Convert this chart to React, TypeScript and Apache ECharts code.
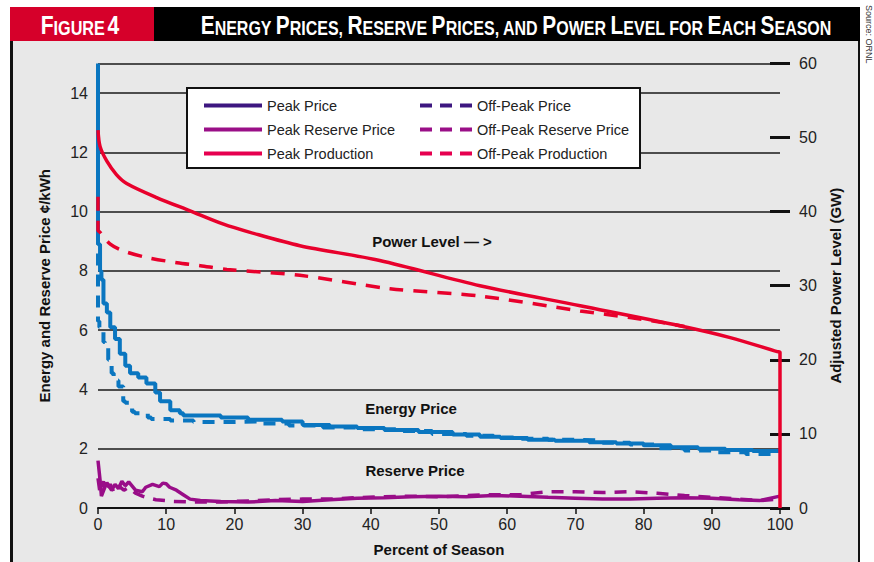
import React, { useEffect, useRef } from "react";
import * as echarts from "echarts";

const peakPrice: [number, number][] = [
  [0, 15], [0.3, 8.9], [0.5, 8.0], [0.8, 7.7], [1.3, 6.9], [1.8, 6.6], [2.5, 6.1], [3.2, 5.7],
  [4.0, 5.2], [4.7, 4.8], [5.9, 4.55], [7.1, 4.4], [8.4, 4.2], [9.1, 3.9], [10.6, 3.6], [12.0, 3.3],
  [12.5, 3.2], [18, 3.12], [22, 3.05], [27, 2.98], [30, 2.92], [34, 2.8], [38, 2.75], [42, 2.7],
  [47, 2.63], [52, 2.56], [56, 2.48], [59, 2.4], [63, 2.36], [67, 2.3], [72, 2.27], [76, 2.22],
  [80, 2.18], [84, 2.12], [88, 2.05], [92, 2.0], [96, 1.96], [100, 1.92],
];
const offPeakPrice: [number, number][] = [
  [0, 10], [0.2, 6.3], [0.8, 6.1], [1.0, 5.6], [1.5, 5.4], [2.0, 5.0], [2.3, 4.55], [3.0, 4.3],
  [3.7, 4.1], [4.0, 3.6], [5.0, 3.55], [5.4, 3.25], [7.3, 3.2], [7.8, 3.05], [10.6, 3.0], [14, 2.95],
  [19, 2.9], [24, 2.92], [28, 2.85], [33, 2.78], [38, 2.72], [44, 2.66], [49, 2.6], [54, 2.5],
  [58, 2.44], [62, 2.38], [66, 2.34], [70, 2.3], [74, 2.28], [78, 2.2], [82, 2.14], [86, 2.02],
  [90, 1.94], [95, 1.88], [100, 1.82],
];
const peakReserve: [number, number][] = [
  [0, 1.6], [0.3, 0.95], [0.5, 0.4], [1, 0.7], [1.3, 0.85], [2, 0.6], [2.5, 0.8], [3, 0.65],
  [3.5, 0.9], [4, 0.75], [4.5, 0.88], [5.5, 0.6], [6.5, 0.55], [7, 0.7], [8, 0.8], [9, 0.72],
  [9.5, 0.84], [10, 0.82], [10.5, 0.7], [11.5, 0.6], [12.5, 0.45], [13.5, 0.3], [15, 0.25],
  [18, 0.22], [22, 0.2], [26, 0.25], [30, 0.22], [34, 0.28], [38, 0.33], [42, 0.35], [46, 0.38],
  [50, 0.4], [54, 0.38], [58, 0.42], [62, 0.4], [66, 0.36], [70, 0.33], [74, 0.3], [78, 0.3],
  [82, 0.33], [86, 0.35], [90, 0.33], [94, 0.28], [97, 0.25], [100, 0.4],
];
const offPeakReserve: [number, number][] = [
  [0, 1.0], [0.3, 0.5], [0.8, 0.9], [1.2, 0.55], [1.8, 0.8], [2.4, 0.5], [3, 0.75], [3.8, 0.6],
  [4.5, 0.7], [5.5, 0.5], [6.5, 0.4], [7.5, 0.33], [8.5, 0.28], [10, 0.25], [11, 0.22], [14, 0.2],
  [18, 0.2], [22, 0.24], [26, 0.28], [30, 0.3], [34, 0.3], [38, 0.35], [42, 0.38], [46, 0.4],
  [50, 0.38], [54, 0.42], [58, 0.45], [62, 0.45], [66, 0.55], [70, 0.55], [74, 0.52], [78, 0.55],
  [82, 0.5], [86, 0.42], [90, 0.36], [94, 0.3], [97, 0.25], [100, 0.3],
];
const peakProduction: [number, number][] = [
  [0, 51], [0.3, 48.8], [1.3, 46.8], [2.7, 45], [4.2, 43.8], [8.6, 41.9], [13.5, 40.1], [18.4, 38.3],
  [22.3, 37.2], [29.6, 35.4], [41.3, 33.4], [56, 30.0], [70.7, 27.3], [85.3, 24.6], [92.7, 23],
  [99.6, 21.1], [100, 21], [100, 0],
];
const offPeakProduction: [number, number][] = [
  [0, 42], [0, 37.5], [0.3, 37.2], [1.8, 35.6], [3.7, 34.7], [7.2, 33.8], [11.6, 33.1], [15, 32.7],
  [18.9, 32.2], [29.6, 31.4], [42.8, 29.6], [56, 28.6], [70.7, 26.6], [78, 25.7], [83, 25.0], [86, 24.5],
];

const peakNames = ["Peak Price", "Peak Reserve Price", "Peak Production"];
const offPeakNames = ["Off-Peak Price", "Off-Peak Reserve Price", "Off-Peak Production"];
const legendColors = ["#3d1780", "#9a0f87", "#e6004f"];

const FONT = "'Liberation Sans Narrow', 'Arial Narrow', 'Liberation Sans', Arial, sans-serif";
const BLUE = "#0a76c0";
const PURPLE = "#990d88";
const RED = "#e8002c";

export default function App() {
  const ref = useRef<HTMLDivElement>(null);
  useEffect(() => {
    document.body.style.margin = "0";
    const chart = echarts.init(ref.current!, null, { renderer: "svg" });
    const dash = [12, 9];
    const titleRich = {
      b: { fontSize: 26, fontWeight: "bold", fontFamily: FONT, fill: "#fff", verticalAlign: "bottom" },
      s: { fontSize: 20, fontWeight: "bold", fontFamily: FONT, fill: "#fff", verticalAlign: "bottom" },
    };
    const nameStyle = { fontSize: 15, fontWeight: "bold", color: "#111", fontFamily: FONT };
    const labelStyle = { fontSize: 16, color: "#222", fontFamily: FONT };
    const annot = (text: string, x: number, y: number) => ({
      type: "text", z: 6, x, y,
      style: { text, fontSize: 15, fontWeight: "bold", fill: "#111", fontFamily: FONT, align: "center", verticalAlign: "middle" },
    });
    const option: any = {
      animation: false,
      backgroundColor: "#ffffff",
      textStyle: { fontFamily: FONT },
      grid: { left: 98, right: 94, top: 63.4, bottom: 54 },
      xAxis: {
        type: "value", min: 0, max: 100, interval: 10,
        name: "Percent of Season", nameLocation: "middle", nameGap: 34,
        nameTextStyle: nameStyle,
        axisLine: { lineStyle: { color: "#111", width: 2 } },
        axisTick: { length: 6, lineStyle: { color: "#111", width: 1.5 } },
        axisLabel: { ...labelStyle, margin: 8 },
        splitLine: { show: false },
      },
      yAxis: [
        {
          type: "value", min: 0, max: 15, interval: 2, position: "left",
          name: "Energy and Reserve Price ¢/kWh", nameLocation: "middle", nameGap: 46,
          nameTextStyle: nameStyle,
          axisLine: { show: false }, axisTick: { show: false },
          axisLabel: { ...labelStyle, margin: 10, showMaxLabel: false },
          splitLine: { show: true, lineStyle: { color: "#1a1a1a", width: 1.5 } },
        },
        {
          type: "value", min: 0, max: 60, interval: 10, position: "right",
          name: "Adjusted Power Level (GW)", nameLocation: "middle", nameGap: 48,
          nameTextStyle: nameStyle,
          axisLine: { show: false },
          axisTick: { show: true, length: 10, lineStyle: { color: "#111", width: 3 } },
          axisLabel: { ...labelStyle, margin: 19 },
          splitLine: { show: false },
        },
        {
          type: "value", min: 0, max: 60, interval: 10, position: "right", offset: 0,
          axisLine: { show: false },
          axisTick: { show: true, inside: true, length: 10, lineStyle: { color: "#111", width: 3 } },
          axisLabel: { show: false },
          splitLine: { show: false },
        },
      ],
      legend: [
        {
          left: 202, top: 98, orient: "vertical", itemWidth: 58, itemHeight: 14, itemGap: 9,
          padding: 0, selectedMode: false, z: 6,
          textStyle: { fontSize: 14.5, color: "#222", fontFamily: FONT },
          data: peakNames.map((n, i) => ({
            name: n, itemStyle: { color: legendColors[i], opacity: 0, borderWidth: 0 },
            lineStyle: { color: legendColors[i], width: 4, type: "solid", opacity: 1 },
          })),
        },
        {
          left: 418, top: 98, orient: "vertical", itemWidth: 52, itemHeight: 14, itemGap: 9,
          padding: 0, selectedMode: false, z: 6,
          textStyle: { fontSize: 14.5, color: "#222", fontFamily: FONT },
          data: offPeakNames.map((n, i) => ({
            name: n, itemStyle: { color: legendColors[i], opacity: 0, borderWidth: 0 },
            lineStyle: { color: legendColors[i], width: 4, type: [12, 8], opacity: 1 },
          })),
        },
      ],
      series: [
        { name: "Peak Price", type: "line", step: "start", data: peakPrice, showSymbol: false, symbol: "none",
          lineStyle: { color: BLUE, width: 4 }, itemStyle: { color: BLUE }, z: 3 },
        { name: "Off-Peak Price", type: "line", step: "start", data: offPeakPrice, showSymbol: false, symbol: "none",
          lineStyle: { color: BLUE, width: 4, type: dash }, itemStyle: { color: BLUE }, z: 3 },
        { name: "Peak Reserve Price", type: "line", data: peakReserve, showSymbol: false, symbol: "none",
          lineStyle: { color: PURPLE, width: 3.5 }, itemStyle: { color: PURPLE }, z: 3 },
        { name: "Off-Peak Reserve Price", type: "line", data: offPeakReserve, showSymbol: false, symbol: "none",
          lineStyle: { color: PURPLE, width: 3.5, type: dash }, itemStyle: { color: PURPLE }, z: 3 },
        { name: "Peak Production", type: "line", yAxisIndex: 1, data: peakProduction, smooth: 0.3,
          showSymbol: false, symbol: "none",
          lineStyle: { color: RED, width: 3.5 }, itemStyle: { color: RED }, z: 4 },
        { name: "Off-Peak Production", type: "line", yAxisIndex: 1, data: offPeakProduction, smooth: 0.3,
          showSymbol: false, symbol: "none",
          lineStyle: { color: RED, width: 3.5, type: [14, 10] }, itemStyle: { color: RED }, z: 4 },
      ],
      graphic: [
        { type: "rect", z: -10, shape: { x: 10, y: 41, width: 850, height: 530 }, style: { fill: "#e8e8e8" } },
        { type: "rect", z: -9, shape: { x: 10, y: 41, width: 3, height: 530 }, style: { fill: "#111" } },
        { type: "rect", z: -9, shape: { x: 858, y: 41, width: 2, height: 530 }, style: { fill: "#111" } },
        { type: "rect", z: 10, shape: { x: 10, y: 7, width: 144, height: 34 }, style: { fill: "#d6002a" } },
        { type: "rect", z: 10, shape: { x: 154, y: 7, width: 706, height: 34 }, style: { fill: "#000" } },
        {
          type: "text", z: 11, x: 80, y: 25, scaleX: 0.81,
          style: { text: "{b|F}{s|IGURE} {b|4}", rich: titleRich, align: "center", verticalAlign: "middle" },
        },
        {
          type: "text", z: 11, x: 516, y: 25, scaleX: 0.8,
          style: {
            text: "{b|E}{s|NERGY }{b|P}{s|RICES, }{b|R}{s|ESERVE }{b|P}{s|RICES, AND }{b|P}{s|OWER }{b|L}{s|EVEL FOR }{b|E}{s|ACH }{b|S}{s|EASON}",
            rich: titleRich, align: "center", verticalAlign: "middle",
          },
        },
        {
          type: "text", z: 11, x: 869, y: 5, rotation: -Math.PI / 2,
          style: { text: "Source: ORNL", fontSize: 9, fill: "#333", fontFamily: FONT, align: "left", verticalAlign: "middle" },
        },
        { type: "rect", z: 5, shape: { x: 187, y: 88, width: 453, height: 80 }, style: { fill: "#fff", stroke: "#111", lineWidth: 2 } },
        annot("Power Level — >", 432, 241),
        annot("Energy Price", 411, 408),
        annot("Reserve Price", 415, 470),
      ],
    };
    chart.setOption(option);
    return () => chart.dispose();
  }, []);
  return <div ref={ref} style={{ width: 874, height: 562, position: "absolute", left: 0, top: 0 }} />;
}
